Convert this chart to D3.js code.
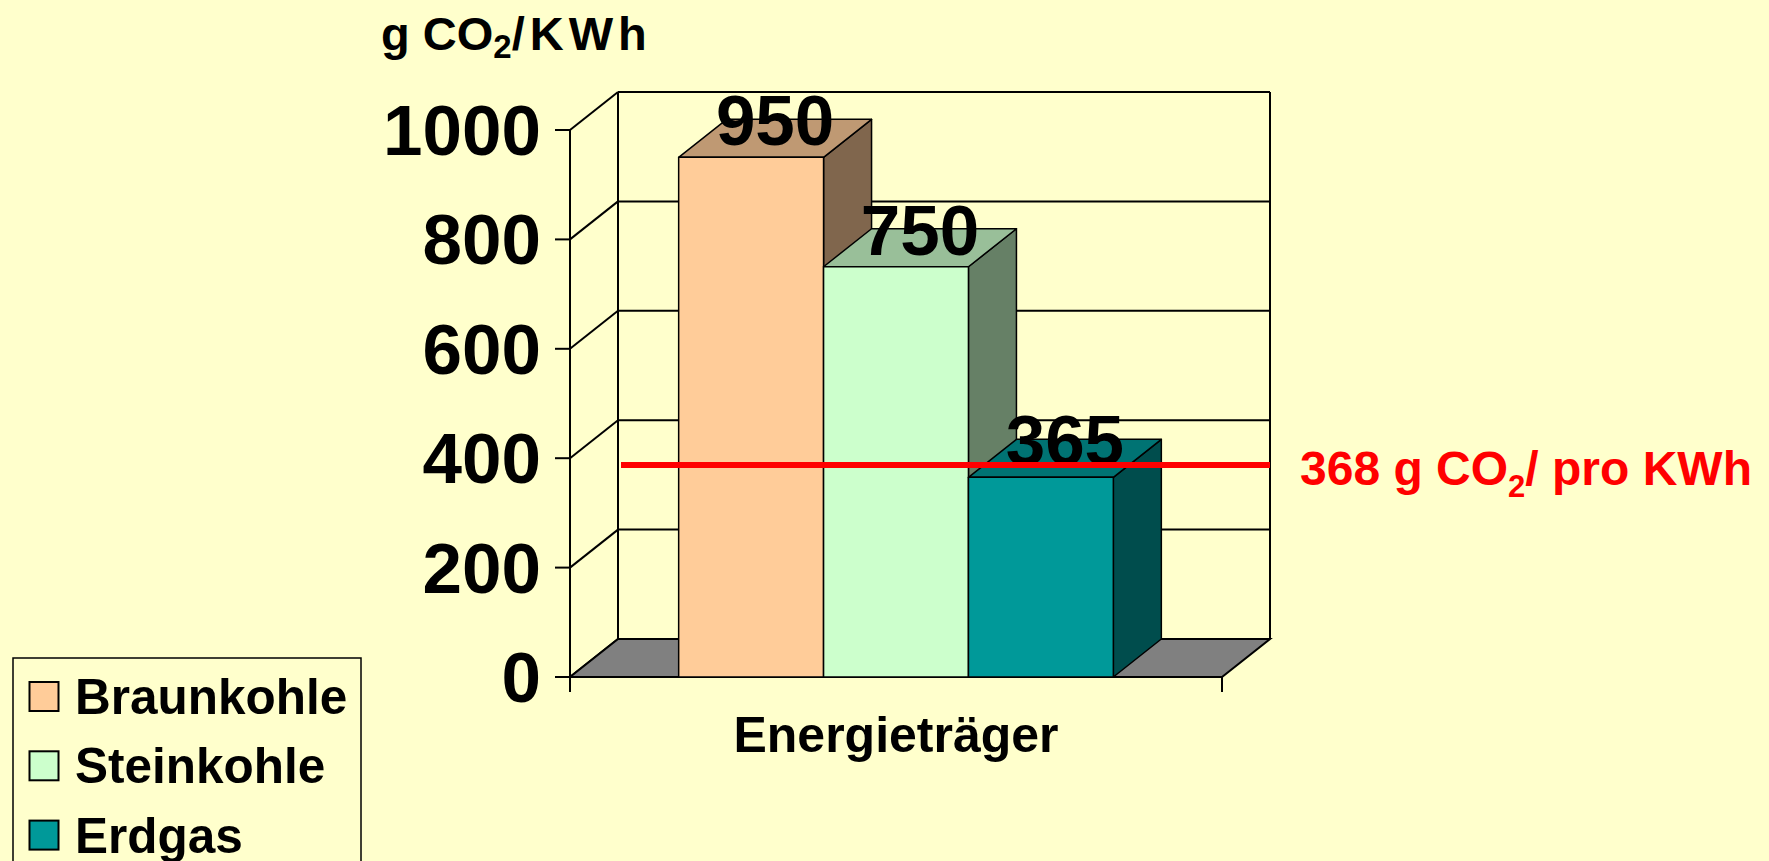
<!DOCTYPE html>
<html>
<head>
<meta charset="utf-8">
<script src="https://cdn.jsdelivr.net/npm/d3@7"></script>
<style>
	html, body { margin: 0; padding: 0; background: #FFFFCC; }
	svg { display: block; }
	text { font-family: "Liberation Sans", Arial, sans-serif; font-weight: bold; }
</style>
</head>
<body>
<div id="chart"></div>
<script>
// Chart data
var category = "Energieträger";
var seriesNames = ["Braunkohle", "Steinkohle", "Erdgas"];
var seriesValues = [950, 750, 365];
var yTicks = [0, 200, 400, 600, 800, 1000];
var refValue = 368;

// Colours (front face), top and side are shaded from it
var seriesColors = ["#FFCC99", "#CCFFCC", "#009999"];

var width = 1769, height = 861;
var depth = {dx: 48, dy: -38};

var svg = d3.select('#chart').append('svg')
	.attr('width', width)
	.attr('height', height);

svg.append('rect').attr('width', width).attr('height', height).attr('fill', '#FFFFCC');

// Scales (front plane)
var y = d3.scaleLinear().domain([0, 1000]).range([677, 130]);
var x = d3.scaleBand().domain(seriesNames).range([570, 1222])
	.paddingInner(0).paddingOuter(0.75);
var x0 = x.range()[0], x1 = x.range()[1];

function shade(c, k) {
	var r = d3.rgb(c);
	return d3.rgb(r.r * k, r.g * k, r.b * k).formatHex();
}

var walls = svg.append('g')
	.attr('stroke', '#000').attr('stroke-width', 2).attr('fill', 'none');

// Back wall gridlines
walls.selectAll('.grid').data(yTicks).enter().append('line')
	.attr('x1', x0 + depth.dx).attr('x2', x1 + depth.dx)
	.attr('y1', function(d) { return y(d) + depth.dy; })
	.attr('y2', function(d) { return y(d) + depth.dy; });

// Side wall diagonals
walls.selectAll('.diag').data(yTicks).enter().append('line')
	.attr('x1', x0).attr('x2', x0 + depth.dx)
	.attr('y1', function(d) { return y(d); })
	.attr('y2', function(d) { return y(d) + depth.dy; });

// Back wall verticals
[x0 + depth.dx, x1 + depth.dx].forEach(function(xx) {
	walls.append('line')
		.attr('x1', xx).attr('x2', xx)
		.attr('y1', y(1000) + depth.dy).attr('y2', y(0) + depth.dy);
});

// Floor
svg.append('polygon')
	.attr('points', [[x0, y(0)], [x1, y(0)], [x1 + depth.dx, y(0) + depth.dy], [x0 + depth.dx, y(0) + depth.dy]].join(' '))
	.attr('fill', '#808080').attr('stroke', '#000').attr('stroke-width', 2);

// Y axis with ticks
svg.append('line').attr('x1', x0).attr('x2', x0)
	.attr('y1', y(1000)).attr('y2', y(0) + 15)
	.attr('stroke', '#000').attr('stroke-width', 2);
svg.selectAll('.ytick').data(yTicks).enter().append('line')
	.attr('x1', x0 - 15).attr('x2', x0)
	.attr('y1', function(d) { return y(d); })
	.attr('y2', function(d) { return y(d); })
	.attr('stroke', '#000').attr('stroke-width', 2);
svg.selectAll('.ylabel').data(yTicks).enter().append('text')
	.attr('x', x0 - 29)
	.attr('y', function(d) { return y(d) + 25; })
	.attr('text-anchor', 'end')
	.attr('font-size', 71)
	.text(function(d) { return d; });

// X axis tick marks
[x0, x1].forEach(function(xx) {
	svg.append('line').attr('x1', xx).attr('x2', xx)
		.attr('y1', y(0)).attr('y2', y(0) + 15)
		.attr('stroke', '#000').attr('stroke-width', 2);
});
svg.append('text')
	.attr('x', (x0 + x1) / 2).attr('y', 752)
	.attr('text-anchor', 'middle').attr('font-size', 50)
	.text(category);

// 3D bars
var bars = svg.selectAll('.bar').data(seriesNames).enter().append('g')
	.attr('stroke', '#000').attr('stroke-width', 1.5).attr('stroke-linejoin', 'round');

bars.each(function(name, i) {
	var g = d3.select(this);
	var bx0 = x(name), bx1 = x(name) + x.bandwidth();
	var yt = y(seriesValues[i]), yb = y(0);
	var c = seriesColors[i];
	g.append('polygon')
		.attr('points', [[bx1, yt], [bx1 + depth.dx, yt + depth.dy], [bx1 + depth.dx, yb + depth.dy], [bx1, yb]].join(' '))
		.attr('fill', shade(c, 0.5));
	g.append('polygon')
		.attr('points', [[bx0, yt], [bx1, yt], [bx1 + depth.dx, yt + depth.dy], [bx0 + depth.dx, yt + depth.dy]].join(' '))
		.attr('fill', shade(c, 0.75));
	g.append('rect')
		.attr('x', bx0).attr('y', yt)
		.attr('width', bx1 - bx0).attr('height', yb - yt)
		.attr('fill', c);
});

// Value labels
svg.selectAll('.vlabel').data(seriesNames).enter().append('text')
	.attr('x', function(d) { return x(d) + x.bandwidth() / 2 + depth.dx / 2; })
	.attr('y', function(d, i) { return y(seriesValues[i]) + depth.dy / 2 + 7; })
	.attr('text-anchor', 'middle').attr('font-size', 71)
	.text(function(d, i) { return seriesValues[i]; });

// Reference line
var refY = y(refValue) + depth.dy * 0.28;
svg.append('line')
	.attr('x1', x0 + depth.dx + 3).attr('x2', x1 + depth.dx)
	.attr('y1', refY).attr('y2', refY)
	.attr('stroke', '#FF0000').attr('stroke-width', 6);

var refText = svg.append('text')
	.attr('x', 1300).attr('y', 485)
	.attr('font-size', 48).attr('fill', '#FF0000');
refText.append('tspan').text(refValue + ' g CO');
refText.append('tspan').attr('font-size', 31).attr('dy', 12).text('2');
refText.append('tspan').attr('dy', -12).text('/ pro KWh');

// Y axis title
var title = svg.append('text')
	.attr('x', 381).attr('y', 50)
	.attr('font-size', 47);
title.append('tspan').text('g CO');
title.append('tspan').attr('font-size', 33).attr('dy', 8).text('2');
title.append('tspan').attr('dy', -8).attr('letter-spacing', 5).text('/KWh');

// Legend
var legend = svg.append('g');
legend.append('rect')
	.attr('x', 13).attr('y', 658)
	.attr('width', 348).attr('height', 240)
	.attr('fill', '#FFFFCC').attr('stroke', '#000').attr('stroke-width', 1.5);
var items = legend.selectAll('.item').data(seriesNames).enter().append('g')
	.attr('transform', function(d, i) { return 'translate(0,' + (i * 69.3) + ')'; });
items.append('rect')
	.attr('x', 29.5).attr('y', 682)
	.attr('width', 29).attr('height', 29)
	.attr('fill', function(d, i) { return seriesColors[i]; })
	.attr('stroke', '#000').attr('stroke-width', 2);
items.append('text')
	.attr('x', 75).attr('y', 714)
	.attr('font-size', 49.5)
	.text(function(d) { return d; });
</script>
</body>
</html>
